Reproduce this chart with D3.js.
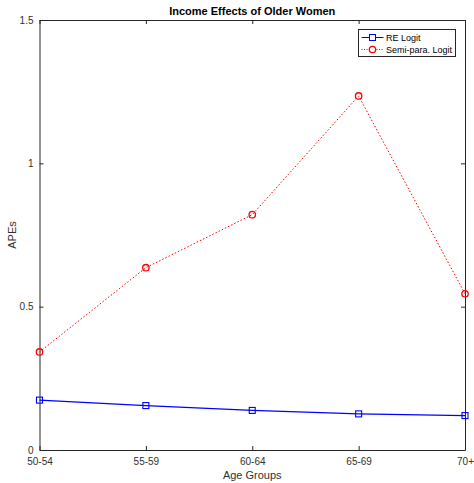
<!DOCTYPE html>
<html>
<head>
<meta charset="utf-8">
<script src="https://cdn.jsdelivr.net/npm/d3@7"></script>
<style>
  body { margin: 0; background: #fff; }
  text { font-family: "Liberation Sans", Arial, sans-serif; }
</style>
</head>
<body>
<div id="chart"></div>
<script>
var ageGroups = ["50-54", "55-59", "60-64", "65-69", "70+"];
var reLogit = [0.174, 0.155, 0.138, 0.126, 0.120];
var semiLogit = [0.342, 0.636, 0.821, 1.235, 0.545];
var yTicks = [0, 0.5, 1, 1.5];

function drawChart(container) {
    "use strict";

    var width = 474,
        height = 483,
        margin = {top: 20, right: 9, bottom: 33, left: 39.5},
        w = width - margin.left - margin.right,
        h = height - margin.top - margin.bottom,
        axisColor = "#262626";

    var svg = container.append("svg")
        .attr("width", width)
        .attr("height", height);

    var g = svg.append("g")
        .attr("transform", "translate(" + margin.left + "," + margin.top + ")");

    var x = d3.scalePoint().domain(ageGroups).range([0, w]),
        y = d3.scaleLinear().domain([0, 1.5]).range([h, 0]);

    // axes, MATLAB style: inward ticks, box on
    var bottom = g.append("g")
        .attr("transform", "translate(0," + h + ")")
        .call(d3.axisBottom(x).tickSizeInner(-4).tickSizeOuter(0).tickPadding(8));
    var top = g.append("g")
        .call(d3.axisTop(x).tickSizeInner(-4).tickSizeOuter(0).tickFormat(""));
    var left = g.append("g")
        .call(d3.axisLeft(y).tickValues(yTicks).tickSizeInner(-4).tickSizeOuter(0).tickPadding(6).tickFormat(d3.format("")));
    var right = g.append("g")
        .attr("transform", "translate(" + w + ",0)")
        .call(d3.axisRight(y).tickValues(yTicks).tickSizeInner(-4).tickSizeOuter(0).tickFormat(""));

    [bottom, top, left, right].forEach(function (a) {
        a.selectAll("path, line").attr("stroke", axisColor);
        a.selectAll("text").attr("fill", "#303030").style("font-size", "10px")
            .style("font-family", "'Liberation Sans', Arial, sans-serif");
    });

    var line = d3.line()
        .x(function (d, i) { return x(ageGroups[i]); })
        .y(function (d) { return y(d); });

    // Semi-parametric logit: red dotted with circles
    g.append("path")
        .datum(semiLogit)
        .attr("fill", "none")
        .attr("stroke", "#ff0000")
        .attr("stroke-width", 1)
        .attr("stroke-dasharray", "1.5,2")
        .attr("d", line);
    g.selectAll(".semi")
        .data(semiLogit)
        .enter().append("circle")
        .attr("cx", function (d, i) { return x(ageGroups[i]); })
        .attr("cy", function (d) { return y(d); })
        .attr("r", 3.2)
        .attr("fill", "none")
        .attr("stroke", "#ff0000")
        .attr("stroke-width", 1.3);

    // RE logit: blue solid with squares
    g.append("path")
        .datum(reLogit)
        .attr("fill", "none")
        .attr("stroke", "#0000ff")
        .attr("stroke-width", 1.3)
        .attr("d", line);
    g.selectAll(".re")
        .data(reLogit)
        .enter().append("rect")
        .attr("x", function (d, i) { return x(ageGroups[i]) - 3; })
        .attr("y", function (d) { return y(d) - 3; })
        .attr("width", 6)
        .attr("height", 6)
        .attr("fill", "none")
        .attr("stroke", "#0000ff")
        .attr("stroke-width", 1.1);

    // title and labels
    svg.append("text")
        .attr("x", margin.left + w / 2)
        .attr("y", 15)
        .attr("text-anchor", "middle")
        .style("font-size", "11px")
        .style("font-weight", "bold")
        .attr("fill", "#000")
        .text("Income Effects of Older Women");

    svg.append("text")
        .attr("x", margin.left + w / 2)
        .attr("y", 479)
        .attr("text-anchor", "middle")
        .style("font-size", "11px")
        .attr("fill", "#303030")
        .text("Age Groups");

    svg.append("text")
        .attr("transform", "rotate(-90)")
        .attr("x", -(margin.top + h / 2))
        .attr("y", 16)
        .attr("text-anchor", "middle")
        .style("font-size", "11px")
        .attr("fill", "#303030")
        .text("APEs");

    // legend
    var legend = svg.append("g").attr("transform", "translate(358.5,29.5)");
    legend.append("rect")
        .attr("width", 97)
        .attr("height", 27)
        .attr("fill", "#fff")
        .attr("stroke", axisColor)
        .attr("stroke-width", 1);

    var items = [
        {name: "RE Logit", color: "#0000ff", dash: null, shape: "square"},
        {name: "Semi-para. Logit", color: "#ff0000", dash: "1,1.5", shape: "circle"}
    ];
    items.forEach(function (it, i) {
        var yy = 8 + i * 12;
        legend.append("line")
            .attr("x1", 3).attr("x2", 25)
            .attr("y1", yy).attr("y2", yy)
            .attr("stroke", it.color)
            .attr("stroke-width", 1)
            .attr("stroke-dasharray", it.dash);
        if (it.shape === "square") {
            legend.append("rect")
                .attr("x", 11).attr("y", yy - 3)
                .attr("width", 6).attr("height", 6)
                .attr("fill", "#fff")
                .attr("stroke", it.color);
        } else {
            legend.append("circle")
                .attr("cx", 14).attr("cy", yy)
                .attr("r", 3.2)
                .attr("fill", "#fff")
                .attr("stroke", it.color)
                .attr("stroke-width", 1.3);
        }
        legend.append("text")
            .attr("x", 27.5)
            .attr("y", yy + 3.3)
            .style("font-size", "9px")
            .attr("fill", "#000")
            .text(it.name);
    });
}

drawChart(d3.select("#chart"));
</script>
</body>
</html>
